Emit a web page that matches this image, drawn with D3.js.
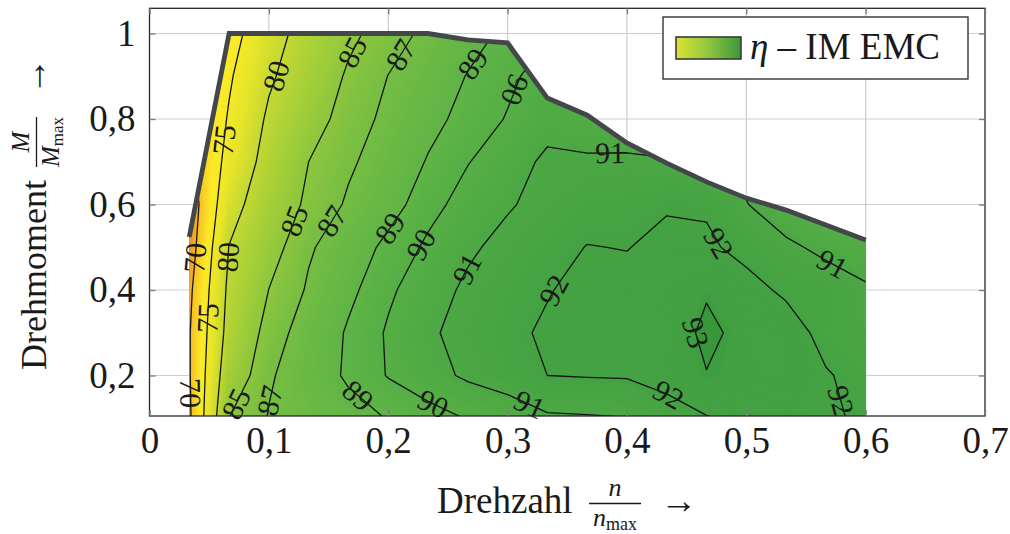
<!DOCTYPE html>
<html><head><meta charset="utf-8">
<script src="https://cdn.jsdelivr.net/npm/d3@7"></script>
<style>
body{margin:0;background:#fff}
svg text{font-family:"Liberation Serif","Times New Roman",serif;fill:#1a1a1a}
</style></head><body>
<svg id="chart" width="1010" height="534"></svg>
<script>
// ---------------- data ----------------
const speedCols = [0.0333,0.0667,0.1,0.1333,0.1667,0.2,0.2333,0.2667,0.3,0.3333,0.3667,0.4,0.4333,0.4667,0.5,0.5333,0.5667,0.6];
const torqueRows = [0.1,0.2,0.3,0.4,0.5,0.6,0.7,0.8,0.9,1.0];
const etaAt01 = [69.3,85.0,87.1,87.77,88.42,89.06,89.58,90.05,90.29,90.85,90.9,90.97,91.4,91.93,92.2,92.3,92.15,91.85];
const etaAt02 = [69.67,83.0,86.78,88.1,89.22,90.06,90.64,91.16,91.57,92.0,92.05,92.08,92.45,92.96,92.75,92.6,92.1,91.6];
const etaAt03 = [69.7,81.6,86.1,87.89,89.16,90.12,90.85,91.34,91.76,92.15,92.2,92.25,92.34,93.25,92.66,92.6,91.6,91.3];
const etaAt04 = [69.1,80.94,85.03,87.26,88.7,89.83,90.59,91.17,91.55,91.94,92.3,92.3,92.5,92.89,92.4,91.79,91.7,91.15];
const etaAt05 = [67.9,80.1,83.9,86.75,88.2,89.34,90.18,90.85,91.28,91.65,92.03,91.97,92.25,92.2,91.65,91.25,90.69,90.36];
const etaAt06 = [67.3,78.3,82.74,85.57,87.27,88.46,89.67,90.39,90.91,91.3,91.6,91.7,91.91,91.86,91.05,90.2,89.7,89.4];
const etaAt07 = [68.9,76.4,81.67,85.0,86.7,87.97,89.1,89.96,90.53,91.2,91.15,91.2,91.1,90.8,90.6,90.0,89.5,89.0];
const etaAt08 = [69.4,75.37,80.66,83.79,86.03,87.49,88.59,89.42,90.07,90.63,90.4,90.25,90.0,89.8,89.6,89.3,89.0,88.7];
const etaAt09 = [69.0,74.51,79.39,82.69,85.38,87.03,88.06,89.07,89.77,90.48,90.3,90.0,89.8,89.6,89.4,89.2,88.9,88.6];
const etaAt10 = [68.0,73.25,78.25,81.76,84.39,86.17,87.45,88.45,89.3,89.9,90.0,89.8,89.6,89.4,89.2,89.0,88.7,88.4];
const etaRows = [etaAt01,etaAt02,etaAt03,etaAt04,etaAt05,etaAt06,etaAt07,etaAt08,etaAt09,etaAt10];
const maxTorque = [0.524,1.0,1.0,1.0,1.0,1.0,1.0,0.985,0.978,0.849,0.809,0.744,0.697,0.653,0.615,0.587,0.552,0.517];
const lineLevels = [70,75,80,85,87,89,90,91,92,93];
const xTickValues = [0,0.1,0.2,0.3,0.4,0.5,0.6,0.7];
const xTickLabels = ["0","0,1","0,2","0,3","0,4","0,5","0,6","0,7"];
const yTickValues = [0.2,0.4,0.6,0.8,1.0];
const yTickLabels = ["0,2","0,4","0,6","0,8","1"];
const colorStops = [64,68,70.5,73.5,77,80,83,86,88.5,90,91,92,92.9,93.05,94];
const colorList = ["#e66c18","#ef9424","#f8c22a","#fdec28","#e8e62c","#c4d934","#a3cf3a","#82c241","#64b746","#56af45","#4ca844","#45a243","#41a042","#389839","#31913a"];
// contour label anchors: [level, n/nmax, M/Mmax, approx. angle]
const labelAnchors = [
 [75,0.0633,0.751,-80],[80,0.1035,0.903,-75],[85,0.1664,0.961,-65],[87,0.2083,0.954,-60],
 [89,0.2687,0.933,-55],[90,0.3064,0.868,100],[91,0.386,0.716,0],
 [70,0.0398,0.475,-80],[80,0.065,0.477,-85],[85,0.1194,0.564,-65],[87,0.1488,0.568,-65],
 [89,0.1974,0.552,-65],[90,0.2251,0.51,-60],[91,0.2628,0.454,-60],[75,0.0448,0.335,-80],
 [70,0.034,0.159,95],[85,0.0658,0.143,-70],[87,0.0985,0.143,-65],[89,0.1748,0.154,40],
 [90,0.2393,0.143,27],[91,0.319,0.136,22],[92,0.3382,0.4,-54],[92,0.4782,0.512,50],
 [91,0.5729,0.466,30],[93,0.4547,0.302,110],[92,0.4346,0.154,25],[92,0.5813,0.143,74]
];

// ---------------- layout ----------------
const svg = d3.select("#chart");
const x = d3.scaleLinear().domain([0,0.7]).range([149.5,985]);
const y = d3.scaleLinear().domain([0.1053,1.059]).range([416,8.3]);
const color = d3.scaleLinear().domain(colorStops).range(colorList).clamp(true);
const X0 = x.range()[0], X1 = x.range()[1], Y0 = y.range()[1], Y1 = y.range()[0];
const SERIF = "Liberation Serif, Times New Roman, serif";

// grid
const grid = svg.append("g").attr("stroke","#cdcdcd").attr("stroke-width",1.2);
xTickValues.filter(v=>v>0&&v<0.7).forEach(v=>grid.append("line").attr("x1",x(v)).attr("x2",x(v)).attr("y1",Y0).attr("y2",Y1));
yTickValues.forEach(v=>grid.append("line").attr("x1",X0).attr("x2",X1).attr("y1",y(v)).attr("y2",y(v)));

// clip region (operating area)
const defs = svg.append("defs");
const clipPts = [[speedCols[0], y.domain()[0]]]
  .concat(speedCols.map((s,i)=>[s,maxTorque[i]]))
  .concat([[speedCols[speedCols.length-1], y.domain()[0]]]);
defs.append("clipPath").attr("id","area").append("path")
  .attr("d", d3.line().x(d=>x(d[0])).y(d=>y(d[1]))(clipPts)+"Z");

// contours
const nx = speedCols.length, ny = torqueRows.length;
const sx = (speedCols[nx-1]-speedCols[0])/(nx-1);
const sy = (torqueRows[ny-1]-torqueRows[0])/(ny-1);
const values = [].concat(...etaRows);
const toPx = (cx,cy)=>[x(speedCols[0]+(cx-0.5)*sx), y(torqueRows[0]+(cy-0.5)*sy)];
const proj = d3.geoTransform({point(px,py){const p=toPx(px,py); this.stream.point(p[0],p[1]);}});
const path = d3.geoPath(proj);
const contourGen = d3.contours().size([nx,ny]);

const fillThr = d3.range(60,94.01,0.1);
const fills = contourGen.thresholds(fillThr)(values);
const gFill = svg.append("g").attr("clip-path","url(#area)");
gFill.selectAll("path").data(fills).join("path")
  .attr("d",path).attr("fill",d=>color(d.value+0.05)).attr("stroke",d=>color(d.value+0.05)).attr("stroke-width",0.3).attr("fill-rule","evenodd");

const lines = lineLevels.map(l=>contourGen.thresholds([l])(values)[0]);
const gLines = svg.append("g").attr("clip-path","url(#area)");
gLines.selectAll("path").data(lines).join("path")
  .attr("d",path).attr("fill","none").attr("stroke","#151515").attr("stroke-width",1.3).attr("stroke-linejoin","round");

// boundary (max torque)
svg.append("path")
  .attr("d", d3.line().x((d,i)=>x(d)).y((d,i)=>y(maxTorque[i]))(speedCols))
  .attr("fill","none").attr("stroke","#43474a").attr("stroke-width",4.8).attr("stroke-linejoin","miter");

// contour labels snapped to computed lines
const gLab = svg.append("g");
labelAnchors.forEach(([lvl,n,m,hint])=>{
  const mp = lines[lineLevels.indexOf(lvl)];
  const tx = x(n), ty = y(m);
  let best=null;
  mp.coordinates.forEach(poly=>poly.forEach(ring=>{
    for(let i=0;i<ring.length-1;i++){
      const a=toPx(ring[i][0],ring[i][1]), b=toPx(ring[i+1][0],ring[i+1][1]);
      const dx=b[0]-a[0], dy=b[1]-a[1], L=dx*dx+dy*dy;
      let t = L>0?((tx-a[0])*dx+(ty-a[1])*dy)/L:0; t=Math.max(0,Math.min(1,t));
      const px=a[0]+t*dx, py=a[1]+t*dy, d=(px-tx)**2+(py-ty)**2;
      if(!best||d<best.d) best={d,px,py,ang:Math.atan2(dy,dx)*180/Math.PI};
    }
  }));
  if(!best) return;
  let ang=best.ang; const cands=[ang,ang+180,ang-180,ang+360,ang-360];
  ang=cands.reduce((p,c)=>Math.abs(c-hint)<Math.abs(p-hint)?c:p);
  gLab.append("text").attr("transform",`translate(${best.px},${best.py}) rotate(${ang})`)
    .attr("text-anchor","middle").attr("dy","0.34em").attr("font-family",SERIF)
    .attr("font-size",30).attr("fill","#111").text(lvl);
});

// frame
svg.append("rect").attr("x",X0).attr("y",Y0).attr("width",X1-X0).attr("height",Y1-Y0)
  .attr("fill","none").attr("stroke","#262626").attr("stroke-width",1.3);

// axes (inward ticks, comma decimals)
const fmtX = d=>xTickLabels[xTickValues.indexOf(d)];
const fmtY = d=>yTickLabels[yTickValues.indexOf(d)];
const axB = svg.append("g").attr("transform",`translate(0,${Y1})`)
  .call(d3.axisBottom(x).tickValues(xTickValues).tickFormat(fmtX).tickSizeInner(-6).tickSizeOuter(0).tickPadding(11));
const axL = svg.append("g").attr("transform",`translate(${X0},0)`)
  .call(d3.axisLeft(y).tickValues(yTickValues).tickFormat(fmtY).tickSizeInner(-6).tickSizeOuter(0).tickPadding(14));
const axT = svg.append("g").attr("transform",`translate(0,${Y0})`)
  .call(d3.axisTop(x).tickValues(xTickValues).tickFormat("").tickSizeInner(-6).tickSizeOuter(0));
const axR = svg.append("g").attr("transform",`translate(${X1},0)`)
  .call(d3.axisRight(y).tickValues(yTickValues).tickFormat("").tickSizeInner(-6).tickSizeOuter(0));
[axB,axL,axT,axR].forEach(g=>{g.select(".domain").remove();
  g.selectAll(".tick line").attr("stroke","#7a7a7a").attr("stroke-width",1.3);
  g.selectAll(".tick text").attr("font-family",SERIF).attr("font-size",37).attr("fill","#1a1a1a");});

// x title
const xt = svg.append("g").attr("font-family",SERIF);
xt.append("text").attr("x",437).attr("y",513).attr("font-size",37).text("Drehzahl");
xt.append("text").attr("x",615).attr("y",496).attr("font-size",26).attr("text-anchor","middle").attr("font-style","italic").text("n");
xt.append("line").attr("x1",589).attr("x2",641).attr("y1",503.5).attr("y2",503.5).attr("stroke","#1a1a1a").attr("stroke-width",1.3);
const xd = xt.append("text").attr("x",615).attr("y",526).attr("font-size",26).attr("text-anchor","middle");
xd.append("tspan").attr("font-style","italic").text("n");
xd.append("tspan").attr("font-size",18).attr("dy",4).text("max");
xt.append("text").attr("x",660).attr("y",513).attr("font-size",37).text("→");

// y title (rotated)
const yt = svg.append("g").attr("font-family",SERIF).attr("transform","translate(46,0) rotate(-90)");
yt.append("text").attr("x",-370).attr("y",0).attr("font-size",36).text("Drehmoment");
yt.append("text").attr("x",-142).attr("y",-17).attr("font-size",25).attr("text-anchor","middle").attr("font-style","italic").text("M");
yt.append("line").attr("x1",-167).attr("x2",-117).attr("y1",-9.5).attr("y2",-9.5).attr("stroke","#1a1a1a").attr("stroke-width",1.3);
const yd = yt.append("text").attr("x",-142).attr("y",13).attr("font-size",25).attr("text-anchor","middle");
yd.append("tspan").attr("font-style","italic").text("M");
yd.append("tspan").attr("font-size",17).attr("dy",4).text("max");
yt.append("text").attr("x",-95).attr("y",0).attr("font-size",37).text("→");

// legend
const grad = defs.append("linearGradient").attr("id","lg");
[["0%","#dbe332"],["50%","#8fc63f"],["100%","#3a983c"]].forEach(([o,c])=>grad.append("stop").attr("offset",o).attr("stop-color",c));
const lg = svg.append("g").attr("font-family",SERIF);
lg.append("rect").attr("x",663).attr("y",17).attr("width",305).attr("height",62).attr("fill","#fff").attr("stroke","#262626").attr("stroke-width",1.3);
lg.append("rect").attr("x",676).attr("y",37).attr("width",65).attr("height",22).attr("fill","url(#lg)").attr("stroke","#3a3a3a").attr("stroke-width",1.6);
const lt = lg.append("text").attr("x",750).attr("y",59).attr("font-size",37);
lt.append("tspan").attr("font-style","italic").text("η");
lt.append("tspan").text(" – IM EMC");
</script></body></html>
